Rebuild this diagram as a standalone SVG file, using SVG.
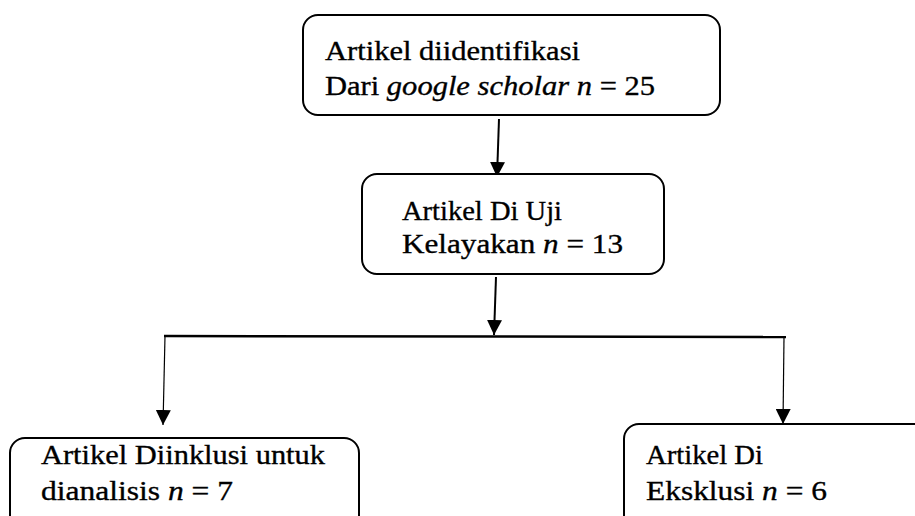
<svg xmlns="http://www.w3.org/2000/svg" width="915" height="516" viewBox="0 0 915 516">
<defs>
<style>
.box{fill:#fff;stroke:#000;stroke-width:2}
.t{font-family:'Liberation Serif','DejaVu Serif',serif;font-size:28px;fill:#000;stroke:#000;stroke-width:0.35}
.i{font-style:italic}
.c{fill:none;stroke:#000}
</style>
<marker id="ah" markerUnits="userSpaceOnUse" markerWidth="15" markerHeight="15" refX="15" refY="7.5" orient="auto" viewBox="0 0 15 15">
<path d="M0,0 L15,7.5 L0,15 z" fill="#000"/>
</marker>
</defs>
<rect width="915" height="516" fill="#fff"/>
<g id="connectors">
<line class="c" x1="499" y1="119" x2="497" y2="177" stroke-width="2" marker-end="url(#ah)"/>
<line class="c" x1="496" y1="277" x2="494" y2="335" stroke-width="2" marker-end="url(#ah)"/>
<line class="c" x1="164" y1="336" x2="786" y2="337" stroke-width="2.5"/>
<line class="c" x1="165" y1="336" x2="163" y2="425" stroke-width="1.2" marker-end="url(#ah)"/>
<line class="c" x1="784" y1="337" x2="783" y2="424" stroke-width="1.2" marker-end="url(#ah)"/>
</g>
<g id="node-identified">
<rect class="box" x="303" y="15" width="417" height="100" rx="15"/>
<text class="t" x="325" y="60" textLength="255" lengthAdjust="spacingAndGlyphs">Artikel diidentifikasi</text>
<text class="t" x="325" y="95" textLength="330" lengthAdjust="spacingAndGlyphs">Dari <tspan class="i">google scholar n</tspan> = 25</text>
</g>
<g id="node-screened">
<rect class="box" x="362" y="174" width="302" height="100" rx="15"/>
<text class="t" x="402" y="220" textLength="160" lengthAdjust="spacingAndGlyphs">Artikel Di Uji</text>
<text class="t" x="402" y="253" textLength="221" lengthAdjust="spacingAndGlyphs">Kelayakan <tspan class="i">n</tspan> = 13</text>
</g>
<g id="node-included">
<rect class="box" x="10" y="438" width="349" height="100" rx="15"/>
<text class="t" x="41" y="464" textLength="284" lengthAdjust="spacingAndGlyphs">Artikel Diinklusi untuk</text>
<text class="t" x="41" y="500" textLength="192" lengthAdjust="spacingAndGlyphs">dianalisis <tspan class="i">n</tspan> = 7</text>
</g>
<g id="node-excluded">
<rect class="box" x="624" y="424" width="320" height="120" rx="15"/>
<text class="t" x="646" y="464" textLength="117" lengthAdjust="spacingAndGlyphs">Artikel Di</text>
<text class="t" x="646" y="500" textLength="181" lengthAdjust="spacingAndGlyphs">Eksklusi <tspan class="i">n</tspan> = 6</text>
</g>
</svg>
